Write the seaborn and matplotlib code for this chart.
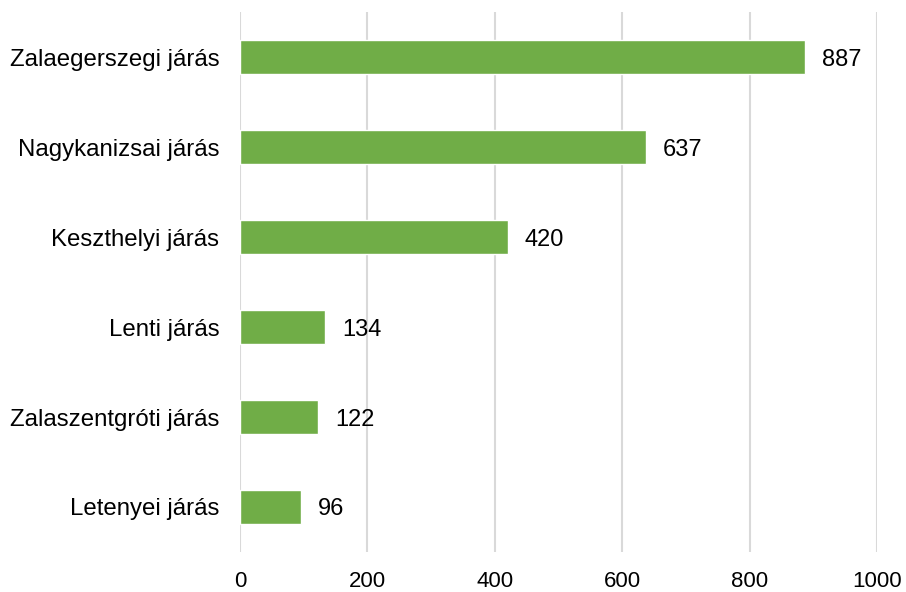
import seaborn as sns
import matplotlib.pyplot as plt
import pandas as pd

districts = ['Zalaegerszegi járás', 'Nagykanizsai járás', 'Keszthelyi járás',
             'Lenti járás', 'Zalaszentgróti járás', 'Letenyei járás']
values = [887, 637, 420, 134, 122, 96]
x_ticks = [0, 200, 400, 600, 800, 1000]

df = pd.DataFrame({'district': districts, 'value': values})

sns.set_theme(style='white')
plt.rcParams['font.family'] = ['Liberation Sans', 'DejaVu Sans']

fig = plt.figure(figsize=(9.06, 5.92), dpi=100)
ax = fig.add_axes([0.2649, 0.0676, 0.7031, 0.912])

sns.barplot(data=df, y='district', x='value', color='#70AD47', width=0.37,
            saturation=1, ax=ax, zorder=3)

ax.set_xlim(0, 1000)
ax.set_xticks(x_ticks)
ax.set_xticklabels([str(t) for t in x_ticks], fontsize=16, color='black')
ax.tick_params(axis='y', labelsize=17.3, labelcolor='black', length=0, pad=15)
ax.tick_params(axis='x', length=0, pad=14)
ax.grid(axis='x', color='#D9D9D9', linewidth=1.5, zorder=0)
ax.set_xlabel('')
ax.set_ylabel('')
for s in ax.spines.values():
    s.set_visible(False)

for i, v in enumerate(values):
    ax.text(v + 27, i, str(v), va='center_baseline', ha='left', fontsize=17,
            color='black')

fig.savefig('out.png', dpi=100)
